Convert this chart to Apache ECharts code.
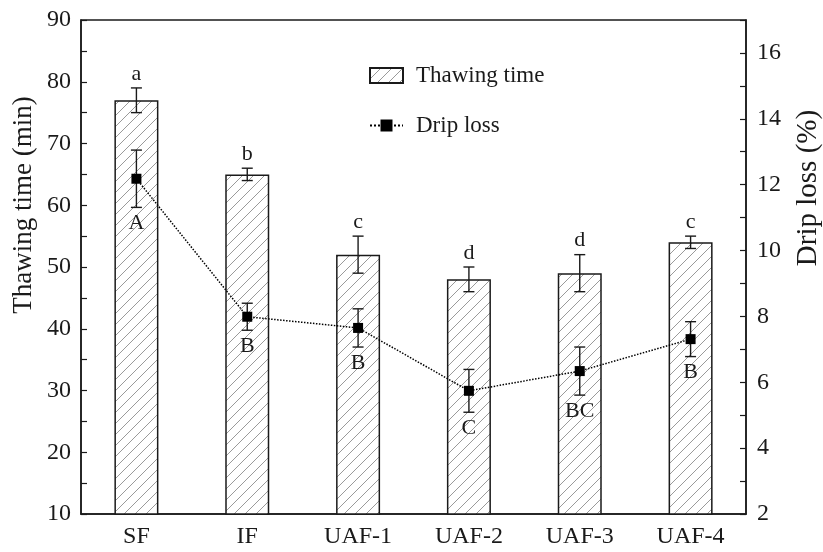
<!DOCTYPE html>
<html>
<head>
<meta charset="utf-8">
<script src="https://cdn.jsdelivr.net/npm/echarts@6/dist/echarts.min.js"></script>
<style>
html,body{margin:0;padding:0;background:#fff;}
#chart{width:823px;height:552px;}
</style>
</head>
<body>
<div id="chart"></div>
<script>
// ---- data ----
const categories = ['SF', 'IF', 'UAF-1', 'UAF-2', 'UAF-3', 'UAF-4'];
const thawingTime = [77, 65, 52, 48, 49, 54];
const thawingErr = [2, 1, 3, 2, 3, 1];
const thawingLetters = ['a', 'b', 'c', 'd', 'd', 'c'];
const dripLoss = [12.18, 7.99, 7.65, 5.74, 6.34, 7.31];
const dripErr = [0.87, 0.41, 0.58, 0.65, 0.73, 0.53];
const dripLetters = ['A', 'B', 'B', 'C', 'BC', 'B'];

const FONT = 'Liberation Serif';
const INK = '#1a1a1a';

// hatch pattern
function makeHatch() {
  const w = 11, h = 11;
  const c = document.createElement('canvas');
  c.width = w; c.height = h;
  const ctx = c.getContext('2d');
  ctx.fillStyle = '#ffffff';
  ctx.fillRect(0, 0, w, h);
  ctx.strokeStyle = '#9a9a9a';
  ctx.lineWidth = 1;
  for (const dx of [-w, 0, w]) {
    ctx.beginPath();
    ctx.moveTo(dx, h);
    ctx.lineTo(dx + w, 0);
    ctx.stroke();
  }
  return c;
}
const hatch = { image: makeHatch(), repeat: 'repeat' };

const chart = echarts.init(document.getElementById('chart'), null, { renderer: 'canvas' });

function errRender(values, errs, letters, above) {
  return function (params, api) {
    const i = params.dataIndex;
    const v = values[i], e = errs[i];
    const pTop = api.coord([i, v + e]);
    const pBot = api.coord([i, v - e]);
    const x = pTop[0];
    const cap = 5.5;
    const style = { stroke: INK, lineWidth: 1.4, fill: null };
    const children = [
      { type: 'line', shape: { x1: x, y1: pTop[1], x2: x, y2: pBot[1] }, style },
      { type: 'line', shape: { x1: x - cap, y1: pTop[1], x2: x + cap, y2: pTop[1] }, style },
      { type: 'line', shape: { x1: x - cap, y1: pBot[1], x2: x + cap, y2: pBot[1] }, style }
    ];
    children.push({
      type: 'text',
      style: {
        text: letters[i],
        x: x,
        y: above ? pTop[1] - 3 : pBot[1] + 5,
        align: 'center',
        verticalAlign: above ? 'bottom' : 'top',
        fontFamily: FONT,
        fontSize: 22,
        fill: INK
      }
    });
    return { type: 'group', children };
  };
}

const option = {
  animation: false,
  backgroundColor: '#fff',
  textStyle: { fontFamily: FONT },
  grid: {
    left: 81, right: 77, top: 20, bottom: 38,
    show: true, borderColor: INK, borderWidth: 1.5, backgroundColor: 'transparent',
    containLabel: false
  },
  legend: {
    orient: 'vertical',
    left: 369,
    top: 64,
    padding: 0,
    itemWidth: 33,
    itemHeight: 15,
    itemGap: 27,
    textStyle: { fontFamily: FONT, fontSize: 23, color: INK, padding: [0, 0, 0, 8] },
    data: [{ name: 'Thawing time', icon: 'rect' }, { name: 'Drip loss' }]
  },
  xAxis: {
    type: 'category',
    data: categories,
    axisLine: { lineStyle: { color: INK, width: 1.5 } },
    axisTick: { show: false },
    axisLabel: { fontFamily: FONT, fontSize: 24, color: INK, margin: 11 },
    splitLine: { show: false }
  },
  yAxis: [
    {
      type: 'value',
      min: 10, max: 90, interval: 5,
      axisLine: { show: true, lineStyle: { color: INK, width: 1.5 } },
      axisTick: { show: true, inside: true, length: 6, lineStyle: { color: INK, width: 1.2 } },
      axisLabel: {
        fontFamily: FONT, fontSize: 24, color: INK, margin: 10,
        formatter: v => (v % 10 === 0 ? String(v) : '')
      },
      splitLine: { show: false }
    },
    {
      type: 'value',
      position: 'right',
      min: 2, max: 17, interval: 1,
      axisLine: { show: true, lineStyle: { color: INK, width: 1.5 } },
      axisTick: { show: true, inside: true, length: 6, lineStyle: { color: INK, width: 1.2 } },
      axisLabel: {
        fontFamily: FONT, fontSize: 24, color: INK, margin: 11,
        formatter: v => (v % 2 === 0 ? String(v) : '')
      },
      splitLine: { show: false }
    }
  ],
  graphic: [
    {
      type: 'text', x: 24, y: 205, rotation: Math.PI / 2,
      style: { text: 'Thawing time (min)', fontFamily: FONT, fontSize: 27, fill: INK, align: 'center', verticalAlign: 'middle' }
    },
    {
      type: 'text', x: 808, y: 188, rotation: Math.PI / 2,
      style: { text: 'Drip loss (%)', fontFamily: FONT, fontSize: 29, fill: INK, align: 'center', verticalAlign: 'middle' }
    }
  ],
  series: [
    {
      name: 'Thawing time',
      type: 'bar',
      yAxisIndex: 0,
      data: thawingTime,
      barWidth: 44,
      itemStyle: { color: hatch, borderColor: INK, borderWidth: 1.5 },
      z: 2
    },
    {
      type: 'custom',
      yAxisIndex: 0,
      data: thawingTime.map((v, i) => [i, v]),
      renderItem: errRender(thawingTime, thawingErr, thawingLetters, true),
      z: 3,
      silent: true
    },
    {
      name: 'Drip loss',
      type: 'line',
      yAxisIndex: 1,
      data: dripLoss,
      symbol: 'rect',
      symbolSize: 10,
      itemStyle: { color: '#000' },
      lineStyle: { color: '#000', width: 1.5, type: 'dotted' },
      z: 5
    },
    {
      type: 'custom',
      yAxisIndex: 1,
      data: dripLoss.map((v, i) => [i, v]),
      renderItem: errRender(dripLoss, dripErr, dripLetters, false),
      z: 4,
      silent: true
    }
  ]
};
chart.setOption(option);
</script>
</body>
</html>
